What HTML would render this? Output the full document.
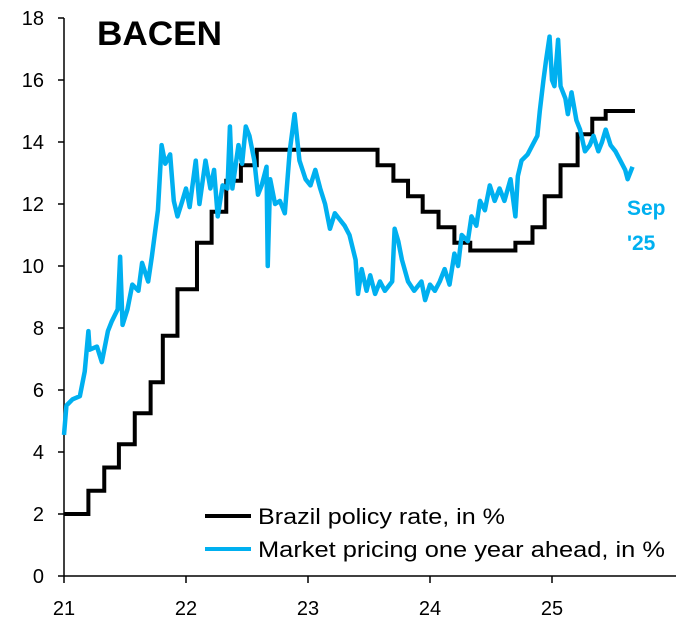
<!DOCTYPE html>
<html><head><meta charset="utf-8"><style>
body{margin:0;background:#fff}
svg{display:block;font-family:"Liberation Sans",sans-serif}
</style></head><body>
<svg id="chart" width="692" height="625"></svg>
<script>
const yTicks=[0,2,4,6,8,10,12,14,16,18];
const xTickYears=[0,1,2,3,4];
const xTickLabels=["21","22","23","24","25"];
const policyT=[0,0.20,0.33,0.45,0.58,0.71,0.81,0.93,1.09,1.21,1.33,1.45,1.58,2.57,2.70,2.82,2.94,3.07,3.20,3.33,3.70,3.84,3.94,4.07,4.21,4.33,4.44,4.68];
const policyV=[2,2.75,3.5,4.25,5.25,6.25,7.75,9.25,10.75,11.75,12.75,13.25,13.75,13.25,12.75,12.25,11.75,11.25,10.75,10.5,10.75,11.25,12.25,13.25,14.25,14.75,15,15];
const mkT=[0.00,0.02,0.07,0.13,0.17,0.20,0.21,0.27,0.31,0.36,0.39,0.44,0.46,0.48,0.52,0.56,0.61,0.64,0.69,0.72,0.77,0.80,0.83,0.87,0.90,0.93,0.97,1.00,1.03,1.08,1.11,1.16,1.20,1.23,1.26,1.30,1.34,1.36,1.38,1.43,1.46,1.49,1.52,1.56,1.59,1.62,1.66,1.67,1.69,1.73,1.77,1.81,1.85,1.89,1.93,1.98,2.02,2.06,2.10,2.14,2.18,2.22,2.26,2.30,2.34,2.39,2.41,2.44,2.48,2.51,2.55,2.59,2.63,2.69,2.71,2.74,2.77,2.82,2.87,2.93,2.96,3.00,3.04,3.08,3.12,3.16,3.20,3.23,3.26,3.31,3.34,3.38,3.41,3.45,3.49,3.53,3.57,3.61,3.66,3.70,3.72,3.75,3.80,3.84,3.88,3.90,3.93,3.95,3.98,4.00,4.02,4.05,4.07,4.11,4.13,4.16,4.20,4.23,4.27,4.31,4.34,4.38,4.41,4.44,4.48,4.52,4.56,4.60,4.62,4.66];
const mkV=[4.55,5.5,5.7,5.8,6.6,7.9,7.3,7.4,6.9,7.9,8.2,8.6,10.3,8.1,8.6,9.4,9.2,10.1,9.5,10.3,11.8,13.9,13.3,13.6,12.1,11.6,12.1,12.5,11.9,13.4,12.0,13.4,12.5,13.1,11.6,12.6,12.5,14.5,12.5,13.9,13.3,14.5,14.2,13.4,12.3,12.6,13.2,10.0,12.8,12.0,12.1,11.7,13.7,14.9,13.4,12.8,12.6,13.1,12.5,12.0,11.2,11.7,11.5,11.3,11.0,10.2,9.1,9.9,9.2,9.7,9.1,9.5,9.2,9.5,11.2,10.8,10.2,9.5,9.2,9.5,8.9,9.4,9.2,9.5,9.9,9.4,10.4,10.0,11.0,10.8,11.6,11.3,12.1,11.8,12.6,12.1,12.5,12.1,12.8,11.6,12.9,13.4,13.6,13.9,14.2,15.0,16.0,16.6,17.4,16.0,15.8,17.3,15.8,15.4,14.9,15.6,14.7,14.4,13.7,13.9,14.2,13.7,14.0,14.4,13.9,13.7,13.4,13.1,12.8,13.2];

const NS="http://www.w3.org/2000/svg";
const svg=document.getElementById('chart');
const X0=64,XW=122,Y0=576,YH=31;
const xs=t=>X0+t*XW, ys=v=>Y0-v*YH;
function el(tag,attrs,parent){const e=document.createElementNS(NS,tag);for(const k in attrs)e.setAttribute(k,attrs[k]);(parent||svg).appendChild(e);return e;}

let a=el('line',{x1:X0,y1:ys(18),x2:X0,y2:Y0,stroke:'#000','stroke-width':1.5});


a=el('line',{x1:X0,y1:Y0,x2:676,y2:Y0,stroke:'#000','stroke-width':1.5});


yTicks.forEach(v=>{
  const t=el('line',{x1:X0-6,y1:ys(v),x2:X0,y2:ys(v),stroke:'#000','stroke-width':1.5});
  
  
  const l=el('text',{x:44,y:ys(v)+7,'text-anchor':'end','font-size':20,fill:'#000'});
  l.textContent=v;
  
  
});
xTickYears.forEach((yr,i)=>{
  const t=el('line',{x1:xs(yr),y1:Y0,x2:xs(yr),y2:Y0+7,stroke:'#000','stroke-width':1.5});
  
  
  const l=el('text',{x:xs(yr),y:615,'text-anchor':'middle','font-size':20,fill:'#000'});
  l.textContent=xTickLabels[i];
  
  
});

let d='';
policyT.forEach((t,i)=>{
  if(i===0)d+='M'+xs(t)+','+ys(policyV[i]);
  else d+=' L'+xs(t)+','+ys(policyV[i-1])+' L'+xs(t)+','+ys(policyV[i]);
});
let p=el('path',{d:d,fill:'none',stroke:'#000','stroke-width':4});



d=mkT.map((t,i)=>(i?'L':'M')+xs(t)+','+ys(mkV[i])).join(' ');
p=el('path',{d:d,fill:'none',stroke:'#00b0f0','stroke-width':4.5,'stroke-linejoin':'round'});



let t=el('text',{x:97,y:45,'font-size':34,'font-weight':'bold',fill:'#000',textLength:125,lengthAdjust:'spacingAndGlyphs'});
t.textContent='BACEN';



t=el('text',{x:627,y:215,'font-size':21,'font-weight':'bold',fill:'#00b0f0'});
t.textContent='Sep';


t=el('text',{x:627,y:250,'font-size':21,'font-weight':'bold',fill:'#00b0f0'});
t.textContent="'25";



let g=el('g',{});


let ln=el('line',{x1:205,y1:516,x2:251,y2:516,stroke:'#000','stroke-width':4},g);


t=el('text',{x:258,y:524,'font-size':22,fill:'#000',textLength:247,lengthAdjust:'spacingAndGlyphs'},g);
t.textContent='Brazil policy rate, in %';


ln=el('line',{x1:205,y1:549,x2:251,y2:549,stroke:'#00b0f0','stroke-width':4},g);


t=el('text',{x:258,y:557,'font-size':22,fill:'#000',textLength:407,lengthAdjust:'spacingAndGlyphs'},g);
t.textContent='Market pricing one year ahead, in %';


</script>
</body></html>
